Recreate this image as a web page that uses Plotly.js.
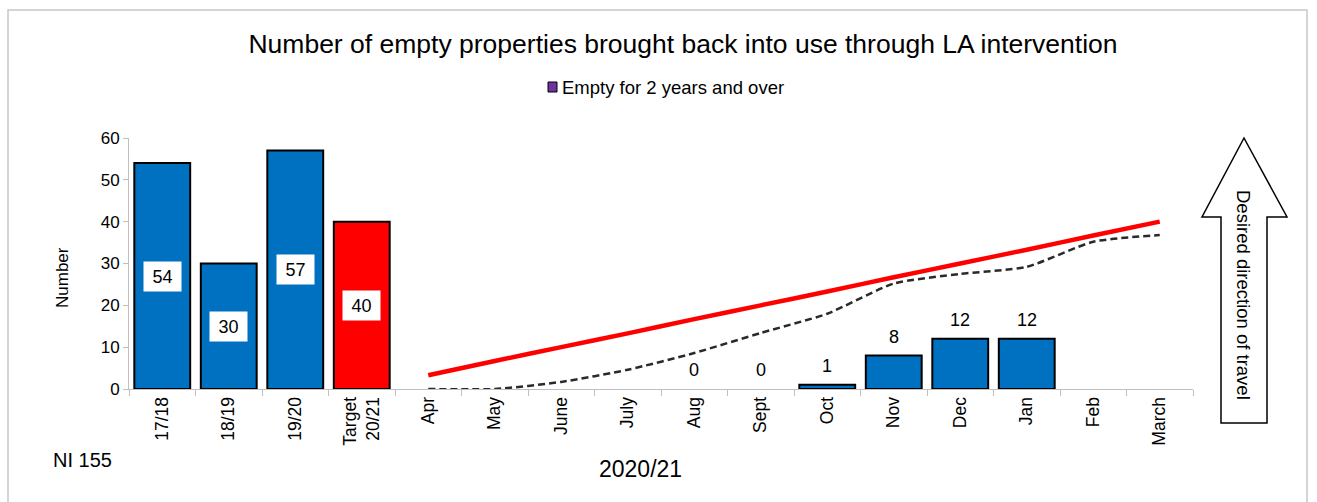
<!DOCTYPE html>
<html>
<head>
<meta charset="utf-8">
<script src="https://cdn.plot.ly/plotly-3.0.1.min.js"></script>
<style>html,body{margin:0;padding:0;background:#fff;}#chart{width:1317px;height:502px;}</style>
</head>
<body>
<div id="chart"></div>
<script>
// ---- data ----
var categories = ['17/18', '18/19', '19/20', 'Target<br>20/21', 'Apr', 'May', 'June', 'July', 'Aug', 'Sept', 'Oct', 'Nov', 'Dec', 'Jan', 'Feb', 'March'];
var barValues = [54, 30, 57, 40, null, null, null, null, 0, 0, 1, 8, 12, 12, null, null];
var months = ['Apr', 'May', 'June', 'July', 'Aug', 'Sept', 'Oct', 'Nov', 'Dec', 'Jan', 'Feb', 'March'];
var targetLine = [3.3, 6.7, 10, 13.3, 16.7, 20, 23.3, 26.7, 30, 33.3, 36.7, 40];
var dashedLine = [0, 0, 1.7, 4.6, 8.6, 13.4, 18, 25.2, 27.5, 29.2, 35.2, 36.8];
var legendLabel = 'Empty for 2 years and over';
var titleText = 'Number of empty properties brought back into use through LA intervention';
var yTitle = 'Number';
var xTitle = '2020/21';
var cornerText = 'NI 155';
var arrowText = 'Desired direction of travel';
var targetCategory = 'Target<br>20/21';
var annualCount = 4; // first four categories are annual figures (labels inside)

// ---- layout helpers ----
var W = 1317, H = 502;
var M = {l: 129, r: 124, t: 138, b: 113};
var PW = W - M.l - M.r, PH = H - M.t - M.b;
function px(x) { return (x - M.l) / PW; }
function py(y) { return (H - M.b - y) / PH; }

var FONT = 'Liberation Sans, Arial, sans-serif';
var BLUE = '#0070C0';

var barColors = categories.map(function (c) { return c === targetCategory ? '#FF0000' : BLUE; });
var barLineWidths = barValues.map(function (v) { return v ? 2 : 0; });

var traces = [
  {
    type: 'bar', x: categories, y: barValues, width: 0.84,
    marker: {color: barColors, line: {color: '#000', width: barLineWidths}},
    hoverinfo: 'x+y', showlegend: false
  },
  {
    type: 'scatter', mode: 'lines', x: months, y: targetLine,
    line: {color: '#FF0000', width: 4.5, shape: 'spline', smoothing: 0.5},
    showlegend: false
  },
  {
    type: 'scatter', mode: 'lines', x: months, y: dashedLine,
    line: {color: '#2a2a2a', width: 2.5, dash: '7px,4px', shape: 'spline', smoothing: 0.6},
    showlegend: false
  }
];

var annotations = [];
barValues.forEach(function (v, i) {
  if (v === null) return;
  if (i < annualCount) {
    annotations.push({
      x: categories[i], y: v / 2, xref: 'x', yref: 'y', text: String(v), showarrow: false,
      bgcolor: '#fff', borderpad: 0, width: 37, height: 29,
      font: {family: FONT, size: 18, color: '#000'}
    });
  } else {
    annotations.push({
      x: categories[i], y: v, xref: 'x', yref: 'y', text: String(v), showarrow: false,
      yanchor: 'bottom', yshift: 7, bgcolor: '#fff', borderpad: 1,
      font: {family: FONT, size: 18, color: '#000'}
    });
  }
});

annotations.push(
  {xref: 'paper', yref: 'paper', x: px(560), y: py(87), xanchor: 'left', yanchor: 'middle',
   text: legendLabel, showarrow: false, font: {family: FONT, size: 18.5, color: '#000'}},
  {xref: 'paper', yref: 'paper', x: px(62), y: py(278), xanchor: 'center', yanchor: 'middle',
   text: yTitle, textangle: -90, showarrow: false, font: {family: FONT, size: 17, color: '#000'}},
  {xref: 'paper', yref: 'paper', x: px(82), y: py(460), xanchor: 'center', yanchor: 'middle',
   text: cornerText, showarrow: false, font: {family: FONT, size: 20, color: '#000'}},
  {xref: 'paper', yref: 'paper', x: px(640), y: py(469), xanchor: 'center', yanchor: 'middle',
   text: xTitle, showarrow: false, font: {family: FONT, size: 23, color: '#000'}},
  {xref: 'paper', yref: 'paper', x: px(1244), y: py(295), xanchor: 'center', yanchor: 'middle',
   text: arrowText, textangle: 90, showarrow: false, font: {family: FONT, size: 18.5, color: '#000'}}
);

function pathFrom(pts) {
  return pts.map(function (p, i) { return (i ? 'L' : 'M') + px(p[0]) + ',' + py(p[1]); }).join(' ') + ' Z';
}

var shapes = [
  {type: 'rect', xref: 'paper', yref: 'paper', x0: px(8), x1: px(1307), y0: py(515), y1: py(10),
   line: {color: '#c8c8c8', width: 1.5}, fillcolor: 'rgba(0,0,0,0)', layer: 'below'},
  {type: 'rect', xref: 'paper', yref: 'paper', x0: px(548), x1: px(557), y0: py(92), y1: py(82),
   line: {color: '#000', width: 1}, fillcolor: '#7030A0'},
  {type: 'path', xref: 'paper', yref: 'paper',
   path: pathFrom([[1244, 138], [1287, 217], [1267, 217], [1267, 423], [1221, 423], [1221, 217], [1202, 217]]),
   line: {color: '#000', width: 1.5}, fillcolor: '#fff', layer: 'below'}
];

var layout = {
  width: W, height: H,
  margin: {l: M.l, r: M.r, t: M.t, b: M.b, pad: 0},
  paper_bgcolor: '#fff', plot_bgcolor: 'rgba(0,0,0,0)',
  font: {family: FONT, color: '#000'},
  title: {text: titleText, xref: 'container', yref: 'container', x: 683 / W, xanchor: 'center',
          y: 1 - 44 / H, yanchor: 'middle', font: {family: FONT, size: 26.5, color: '#000'}},
  showlegend: false,
  xaxis: {
    type: 'category', categoryorder: 'array', categoryarray: categories,
    range: [-0.5, categories.length - 0.5], tickson: 'boundaries',
    ticks: 'outside', ticklen: 6, tickcolor: '#bfbfbf', tickwidth: 1,
    showline: true, linecolor: '#bfbfbf', linewidth: 1, showgrid: false, zeroline: false,
    tickangle: -90, tickfont: {family: FONT, size: 17.5, color: '#000'}
  },
  yaxis: {
    range: [0, 60], dtick: 10, ticks: 'outside', ticklen: 5, tickcolor: '#bfbfbf',
    showline: true, linecolor: '#bfbfbf', linewidth: 1, showgrid: false, zeroline: false,
    tickfont: {family: FONT, size: 17, color: '#000'}
  },
  annotations: annotations,
  shapes: shapes
};

Plotly.newPlot('chart', traces, layout, {displayModeBar: false, staticPlot: true});
</script>
</body>
</html>
